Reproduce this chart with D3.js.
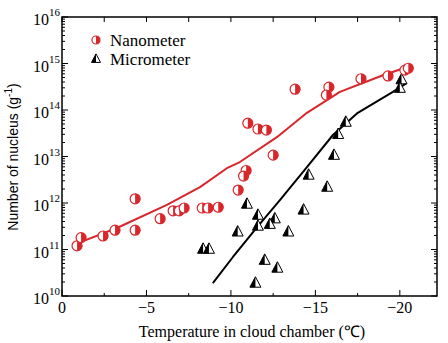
<!DOCTYPE html>
<html><head><meta charset="utf-8">
<script src="https://cdn.jsdelivr.net/npm/d3@7"></script>
<style>body{margin:0;background:#fff}svg{display:block}</style>
</head><body><svg id="c" width="448" height="343"></svg>
<script>
const nanoT = [-0.89,-1.13,-2.43,-3.14,-4.33,-4.33,-5.81,-6.58,-6.94,-7.23,-8.3,-8.65,-9.25,-10.43,-10.9,-10.75,-11.0,-11.6,-12.1,-12.5,-13.8,-15.8,-15.65,-17.7,-19.3,-20.3,-20.5];
const nanoN = [1.2e11,1.8e11,1.95e11,2.6e11,1.23e12,2.6e11,4.6e11,6.8e11,6.8e11,7.8e11,7.8e11,7.8e11,8.1e11,1.9e12,5.0e12,3.8e12,5.2e13,3.9e13,3.7e13,1.07e13,2.8e14,3.1e14,2.1e14,4.7e14,5.4e14,7.2e14,7.9e14];
const microT = [-16.1,-14.6,-15.7,-10.95,-11.6,-12.6,-11.6,-12.3,-10.4,-13.4,-14.3,-8.35,-8.7,-12.0,-12.75,-11.45,-16.8,-16.35,-20.1,-20.0];
const microN = [1.07e13,4.0e12,2.2e12,9.5e11,5.5e11,4.6e11,3.2e11,3.5e11,2.4e11,2.4e11,7.1e11,1.02e11,1.02e11,5.9e10,4.0e10,1.9e10,5.5e13,3.0e13,4.5e14,2.95e14];
const nanoFitT = [-0.83,-3.25,-6.21,-8.17,-9.76,-10.53,-12.72,-14.5,-16.45,-19.0,-20.4];
const nanoFitN = [1.32e11,2.9e11,9.1e11,2.2e12,5.6e12,7.6e12,2.6e13,8.7e13,2.45e14,5.6e14,8.3e14];
const microFitT = [-8.93,-10.12,-11.54,-12.9,-14.5,-16.04,-17.51,-19.59,-20.4];
const microFitN = [1.9e10,6.9e10,3.0e11,1.15e12,5.9e12,2.9e13,8.7e13,2.45e14,3.8e14];
const xTicks = [0,-5,-10,-15,-20];
const xTickLabels = ["0","\u22125","\u221210","\u221215","\u221220"];
const yExps = [10,11,12,13,14,15,16];
const seriesNames = ["Nanometer","Micrometer"];

const svg = d3.select("#c");
const L=62,R=437,T=17,B=296;
const x = d3.scaleLinear().domain([0,-22.2]).range([L,R]);
const y = d3.scaleLog().domain([1e10,1e16]).range([B,T]);
const red="#d9262b";
const SERIF="Liberation Serif";
const SANS="Liberation Sans";

const line = d3.line().x(d=>x(d[0])).y(d=>y(d[1]));
svg.append("path").attr("d",line(nanoFitT.map((t,i)=>[t,nanoFitN[i]]))).attr("fill","none").attr("stroke",red).attr("stroke-width",2).attr("stroke-linejoin","round");
svg.append("path").attr("d",line(microFitT.map((t,i)=>[t,microFitN[i]]))).attr("fill","none").attr("stroke","#000").attr("stroke-width",2).attr("stroke-linejoin","round");

function circleMark(g,cx,cy,r){
  g.append("circle").attr("cx",cx).attr("cy",cy).attr("r",r).attr("fill","#fff").attr("stroke",red).attr("stroke-width",1.2);
  g.append("path").attr("d",`M${cx},${cy-r}A${r},${r} 0 0 1 ${cx},${cy+r}Z`).attr("fill",red);
}
function triMark(g,cx,cy,s){
  const h=s*0.95;
  g.append("path").attr("d",`M${cx},${cy-h*0.6}L${cx-s/2},${cy+h*0.4}L${cx+s/2},${cy+h*0.4}Z`).attr("fill","#fff").attr("stroke","#000").attr("stroke-width",1);
  g.append("path").attr("d",`M${cx},${cy-h*0.6}L${cx-s/2},${cy+h*0.4}L${cx},${cy+h*0.4}Z`).attr("fill","#000");
}
const gm = svg.append("g");
microT.forEach((t,i)=>triMark(gm,x(t),y(microN[i]),11));
nanoT.forEach((t,i)=>circleMark(gm,x(t),y(nanoN[i]),5));

const ax = svg.append("g").attr("stroke","#000").attr("fill","none");
ax.append("rect").attr("x",L).attr("y",T).attr("width",R-L).attr("height",B-T).attr("stroke-width",1.5);
d3.range(0,-22.01,-2.5).forEach(v=>{
  const major = Math.abs(v%5)<1e-9;
  const len = major?6:3;
  ax.append("line").attr("x1",x(v)).attr("x2",x(v)).attr("y1",B).attr("y2",B-len);
  ax.append("line").attr("x1",x(v)).attr("x2",x(v)).attr("y1",T).attr("y2",T+5);
});
for(let e=10;e<16;e++){
  for(let m=1;m<10;m++){
    const v=m*Math.pow(10,e); const yy=y(v); const len=m===1?6:3;
    ax.append("line").attr("x1",L).attr("x2",L+len).attr("y1",yy).attr("y2",yy);
    ax.append("line").attr("x1",R).attr("x2",R-len).attr("y1",yy).attr("y2",yy);
  }
}
ax.append("line").attr("x1",L).attr("x2",L+6).attr("y1",y(1e16)).attr("y2",y(1e16));
ax.append("line").attr("x1",R).attr("x2",R-6).attr("y1",y(1e16)).attr("y2",y(1e16));

xTicks.forEach((v,i)=>{
  svg.append("text").attr("font-family",SERIF).attr("x",x(v)).attr("y",313).attr("text-anchor","middle")
    .attr("font-size",16).text(xTickLabels[i]);
});
yExps.forEach(e=>{
  svg.append("text").attr("font-family",SERIF).attr("x",49).attr("y",y(Math.pow(10,e))+8).attr("text-anchor","end")
    .attr("font-size",16).text("10");
  svg.append("text").attr("font-family",SERIF).attr("x",49).attr("y",y(Math.pow(10,e))-1).attr("font-size",11).text(e);
});

svg.append("text").attr("font-family",SERIF).attr("x",252).attr("y",337).attr("text-anchor","middle").attr("font-size",16)
  .text("Temperature in cloud chamber (\u2103)");
const yt = svg.append("text").attr("font-family",SANS).attr("transform","translate(18,157) rotate(-90)").attr("text-anchor","middle")
  .attr("font-size",14);
yt.append("tspan").text("Number of nucleus (g");
yt.append("tspan").attr("font-size",10).attr("dy",-6).text("-1");
yt.append("tspan").attr("dy",6).text(")");

const lg = svg.append("g");
circleMark(lg,96,40,4);
triMark(lg,96,59,9);
lg.append("text").attr("font-family",SERIF).attr("x",110).attr("y",46).attr("font-size",17).text(seriesNames[0]);
lg.append("text").attr("font-family",SERIF).attr("x",110).attr("y",65).attr("font-size",17).text(seriesNames[1]);
</script></body></html>
